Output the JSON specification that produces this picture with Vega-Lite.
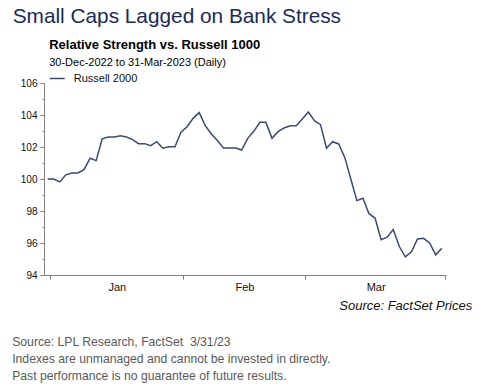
{
  "$schema": "https://vega.github.io/schema/vega-lite/v6.json",
  "width": 402,
  "height": 192,
  "autosize": {"type": "none"},
  "padding": {"left": 44, "top": 83, "right": 41, "bottom": 112},
  "background": "white",
  "config": {"font": "Liberation Sans", "view": {"stroke": null}},
  "title": {
    "text": "Small Caps Lagged on Bank Stress",
    "anchor": "start",
    "frame": "group",
    "dx": -31.3,
    "offset": 11,
    "fontSize": 20.8,
    "fontWeight": "normal",
    "color": "#1a2a5a"
  },
  "data": {
    "values": [
      {"date": "2022-12-30", "value": 100.0, "series": "Russell 2000"},
      {"date": "2023-01-02", "value": 100.0, "series": "Russell 2000"},
      {"date": "2023-01-03", "value": 99.82, "series": "Russell 2000"},
      {"date": "2023-01-04", "value": 100.26, "series": "Russell 2000"},
      {"date": "2023-01-05", "value": 100.38, "series": "Russell 2000"},
      {"date": "2023-01-06", "value": 100.38, "series": "Russell 2000"},
      {"date": "2023-01-09", "value": 100.58, "series": "Russell 2000"},
      {"date": "2023-01-10", "value": 101.3, "series": "Russell 2000"},
      {"date": "2023-01-11", "value": 101.15, "series": "Russell 2000"},
      {"date": "2023-01-12", "value": 102.51, "series": "Russell 2000"},
      {"date": "2023-01-13", "value": 102.62, "series": "Russell 2000"},
      {"date": "2023-01-16", "value": 102.62, "series": "Russell 2000"},
      {"date": "2023-01-17", "value": 102.7, "series": "Russell 2000"},
      {"date": "2023-01-18", "value": 102.62, "series": "Russell 2000"},
      {"date": "2023-01-19", "value": 102.46, "series": "Russell 2000"},
      {"date": "2023-01-20", "value": 102.21, "series": "Russell 2000"},
      {"date": "2023-01-23", "value": 102.21, "series": "Russell 2000"},
      {"date": "2023-01-24", "value": 102.08, "series": "Russell 2000"},
      {"date": "2023-01-25", "value": 102.33, "series": "Russell 2000"},
      {"date": "2023-01-26", "value": 101.92, "series": "Russell 2000"},
      {"date": "2023-01-27", "value": 102.02, "series": "Russell 2000"},
      {"date": "2023-01-30", "value": 102.02, "series": "Russell 2000"},
      {"date": "2023-01-31", "value": 102.92, "series": "Russell 2000"},
      {"date": "2023-02-01", "value": 103.27, "series": "Russell 2000"},
      {"date": "2023-02-02", "value": 103.79, "series": "Russell 2000"},
      {"date": "2023-02-03", "value": 104.15, "series": "Russell 2000"},
      {"date": "2023-02-06", "value": 103.33, "series": "Russell 2000"},
      {"date": "2023-02-07", "value": 102.81, "series": "Russell 2000"},
      {"date": "2023-02-08", "value": 102.4, "series": "Russell 2000"},
      {"date": "2023-02-09", "value": 101.94, "series": "Russell 2000"},
      {"date": "2023-02-10", "value": 101.94, "series": "Russell 2000"},
      {"date": "2023-02-13", "value": 101.94, "series": "Russell 2000"},
      {"date": "2023-02-14", "value": 101.81, "series": "Russell 2000"},
      {"date": "2023-02-15", "value": 102.54, "series": "Russell 2000"},
      {"date": "2023-02-16", "value": 102.98, "series": "Russell 2000"},
      {"date": "2023-02-17", "value": 103.54, "series": "Russell 2000"},
      {"date": "2023-02-20", "value": 103.54, "series": "Russell 2000"},
      {"date": "2023-02-21", "value": 102.54, "series": "Russell 2000"},
      {"date": "2023-02-22", "value": 102.96, "series": "Russell 2000"},
      {"date": "2023-02-23", "value": 103.19, "series": "Russell 2000"},
      {"date": "2023-02-24", "value": 103.33, "series": "Russell 2000"},
      {"date": "2023-02-27", "value": 103.33, "series": "Russell 2000"},
      {"date": "2023-02-28", "value": 103.75, "series": "Russell 2000"},
      {"date": "2023-03-01", "value": 104.19, "series": "Russell 2000"},
      {"date": "2023-03-02", "value": 103.65, "series": "Russell 2000"},
      {"date": "2023-03-03", "value": 103.4, "series": "Russell 2000"},
      {"date": "2023-03-06", "value": 101.92, "series": "Russell 2000"},
      {"date": "2023-03-07", "value": 102.33, "series": "Russell 2000"},
      {"date": "2023-03-08", "value": 102.19, "series": "Russell 2000"},
      {"date": "2023-03-09", "value": 101.35, "series": "Russell 2000"},
      {"date": "2023-03-10", "value": 100.0, "series": "Russell 2000"},
      {"date": "2023-03-13", "value": 98.65, "series": "Russell 2000"},
      {"date": "2023-03-14", "value": 98.8, "series": "Russell 2000"},
      {"date": "2023-03-15", "value": 97.83, "series": "Russell 2000"},
      {"date": "2023-03-16", "value": 97.56, "series": "Russell 2000"},
      {"date": "2023-03-17", "value": 96.2, "series": "Russell 2000"},
      {"date": "2023-03-20", "value": 96.36, "series": "Russell 2000"},
      {"date": "2023-03-21", "value": 96.84, "series": "Russell 2000"},
      {"date": "2023-03-22", "value": 95.78, "series": "Russell 2000"},
      {"date": "2023-03-23", "value": 95.13, "series": "Russell 2000"},
      {"date": "2023-03-24", "value": 95.45, "series": "Russell 2000"},
      {"date": "2023-03-27", "value": 96.25, "series": "Russell 2000"},
      {"date": "2023-03-28", "value": 96.29, "series": "Russell 2000"},
      {"date": "2023-03-29", "value": 96.0, "series": "Russell 2000"},
      {"date": "2023-03-30", "value": 95.26, "series": "Russell 2000"},
      {"date": "2023-03-31", "value": 95.67, "series": "Russell 2000"}
    ]
  },
  "transform": [
    {"window": [{"op": "row_number", "as": "n"}], "sort": [{"field": "date", "order": "ascending"}]}
  ],
  "resolve": {
    "scale": {"x": "independent", "y": "independent"},
    "axis": {"x": "independent", "y": "independent"}
  },
  "layer": [
    {
      "mark": {"type": "line", "strokeWidth": 1.5, "interpolate": "linear"},
      "encoding": {
        "x": {
          "field": "n",
          "type": "quantitative",
          "scale": {"domain": [0.4, 66.7], "nice": false, "zero": false},
          "axis": {
            "orient": "bottom",
            "values": [1.35, 12.4, 23.3, 33.45, 43.5, 55.1, 66.6],
            "labelExpr": "datum.value > 5 && datum.value < 15 ? 'Jan' : (datum.value > 30 && datum.value < 36 ? 'Feb' : (datum.value > 50 && datum.value < 60 ? 'Mar' : ''))",
            "tickOpacity": {"condition": {"test": "datum.value < 2 || (datum.value > 20 && datum.value < 25) || (datum.value > 40 && datum.value < 45) || datum.value > 60", "value": 1}, "value": 0},
            "tickSize": 4,
            "tickColor": "#808080",
            "domainColor": "#808080",
            "labelFontSize": 11,
            "labelColor": "#111111",
            "labelPadding": 2,
            "labelFlush": false,
            "labelOverlap": false,
            "grid": false,
            "title": ["Source: LPL Research, FactSet \u00a03/31/23", "Indexes are unmanaged and cannot be invested in directly.", "Past performance is no guarantee of future results."],
            "titleX": -32.3,
            "titleY": 70,
            "titleAlign": "left",
            "titleAnchor": "start",
            "titleBaseline": "alphabetic",
            "titleFontSize": 12.2,
            "titleFontWeight": "normal",
            "titleColor": "#595959",
            "titleLineHeight": 17
          }
        },
        "y": {
          "field": "value",
          "type": "quantitative",
          "scale": {"domain": [94, 106], "nice": false, "zero": false},
          "axis": {
            "orient": "left",
            "values": [94, 96, 98, 100, 102, 104, 106],
            "tickSize": 4,
            "tickColor": "#808080",
            "domainColor": "#808080",
            "labelFontSize": 10,
            "labelColor": "#111111",
            "labelPadding": 3,
            "grid": false,
            "title": "Relative Strength vs. Russell 1000",
            "titleAngle": 0,
            "titleX": 4.7,
            "titleY": -34.3,
            "titleAlign": "left",
            "titleBaseline": "alphabetic",
            "titleFontSize": 13,
            "titleFontWeight": "bold",
            "titleColor": "#000000"
          }
        },
        "color": {
          "field": "series",
          "type": "nominal",
          "scale": {"range": ["#3a4a70"]},
          "legend": {
            "orient": "none",
            "legendX": 4.7,
            "legendY": -13,
            "padding": 0,
            "title": null,
            "symbolType": "stroke",
            "symbolSize": 225,
            "symbolStrokeWidth": 1.5,
            "labelFontSize": 11,
            "labelOffset": 8,
            "labelColor": "#111111"
          }
        }
      }
    },
    {
      "mark": {"type": "line", "strokeOpacity": 0},
      "encoding": {
        "x": {
          "field": "n",
          "type": "quantitative",
          "scale": {"domain": [0.4, 66.7], "nice": false, "zero": false},
          "axis": {
            "orient": "bottom",
            "labels": false,
            "ticks": false,
            "domain": false,
            "grid": false,
            "title": "Source: FactSet Prices",
            "titleX": 427.7,
            "titleY": 34.5,
            "titleAlign": "right",
            "titleBaseline": "alphabetic",
            "titleFontSize": 13,
            "titleFontStyle": "italic",
            "titleFontWeight": "normal",
            "titleColor": "#111111"
          }
        },
        "y": {
          "field": "value",
          "type": "quantitative",
          "scale": {"domain": [94, 106], "nice": false, "zero": false},
          "axis": {
            "orient": "left",
            "values": [95, 97, 99, 101, 103, 105],
            "labels": false,
            "domain": false,
            "grid": false,
            "tickSize": 2,
            "tickColor": "#808080",
            "title": "30-Dec-2022 to 31-Mar-2023 (Daily)",
            "titleAngle": 0,
            "titleX": 4.7,
            "titleY": -18,
            "titleAlign": "left",
            "titleBaseline": "alphabetic",
            "titleFontSize": 11,
            "titleFontWeight": "normal",
            "titleColor": "#000000"
          }
        }
      }
    }
  ]
}
